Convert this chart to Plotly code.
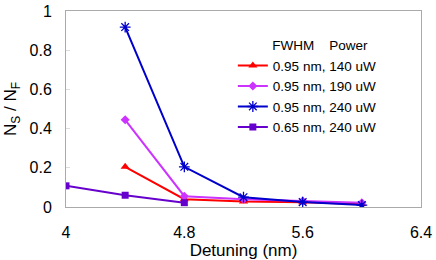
import plotly.graph_objects as go

x_main = [4.4, 4.8, 5.2, 5.6, 6.0]
red_vals = [0.205, 0.04, 0.028, 0.024, 0.015]
mag_vals = [0.445, 0.055, 0.04, 0.03, 0.022]
blue_vals = [0.918, 0.205, 0.05, 0.025, 0.01]
x_purple = [4.0, 4.4, 4.8]
purple_vals = [0.108, 0.06, 0.022]
names = ["0.95 nm, 140 uW", "0.95 nm, 190 uW", "0.95 nm, 240 uW", "0.65 nm, 240 uW"]
x_ticks = [4, 4.8, 5.6, 6.4]
y_ticks = [0, 0.2, 0.4, 0.6, 0.8, 1]

fig = go.Figure()
fig.add_trace(go.Scatter(x=x_main, y=red_vals, name=names[0], mode="lines+markers",
                         line=dict(color="#FF0000", width=2),
                         marker=dict(symbol="triangle-up", size=8, color="#FF0000")))
fig.add_trace(go.Scatter(x=x_main, y=mag_vals, name=names[1], mode="lines+markers",
                         line=dict(color="#CC33FF", width=2),
                         marker=dict(symbol="diamond", size=7, color="#CC33FF")))
fig.add_trace(go.Scatter(x=x_main, y=blue_vals, name=names[2], mode="lines+markers",
                         line=dict(color="#0000CC", width=2),
                         marker=dict(symbol="asterisk-open", size=9, color="#0000CC",
                                     line=dict(color="#0000CC", width=1.3))))
fig.add_trace(go.Scatter(x=x_purple, y=purple_vals, name=names[3], mode="lines+markers",
                         line=dict(color="#6600CC", width=2),
                         marker=dict(symbol="square", size=7, color="#6600CC")))

nb = "\u00a0"
fig.update_layout(
    width=436, height=260,
    margin=dict(l=66, r=15, t=11, b=53),
    paper_bgcolor="white", plot_bgcolor="white",
    font=dict(family="Liberation Sans, Arial, sans-serif", size=16, color="black"),
    showlegend=True,
    legend=dict(x=0.47, y=0.89, xanchor="left", yanchor="top",
                title=dict(text=nb * 10 + "FWHM" + nb * 4 + "Power", side="top",
                           font=dict(size=13.5)),
                font=dict(size=13.5), bgcolor="rgba(0,0,0,0)",
                tracegroupgap=0, itemwidth=30),
    xaxis=dict(range=[4, 6.4], tickvals=x_ticks, ticktext=[str(t) for t in x_ticks],
               showgrid=False, zeroline=False, showline=True, linecolor="#AAAAAA",
               linewidth=1, mirror=True, ticks="", ticklabelstandoff=11,
               automargin=False, tickfont=dict(size=16),
               title=dict(text="Detuning (nm)", standoff=0, font=dict(size=17))),
    yaxis=dict(range=[0, 1], tickvals=y_ticks, ticktext=[str(t) for t in y_ticks],
               showgrid=False, zeroline=False, showline=True, linecolor="#AAAAAA",
               linewidth=1, mirror=True, ticks="inside", ticklen=4, tickcolor="#DDDDDD",
               ticklabelstandoff=10, automargin=False, tickfont=dict(size=16),
               title=dict(text="N<sub>S</sub> / N<sub>F</sub>", standoff=8, font=dict(size=17))),
)

fig.write_html("out.html", config={"displayModeBar": False},
               post_script="document.body.style.margin='0';")
